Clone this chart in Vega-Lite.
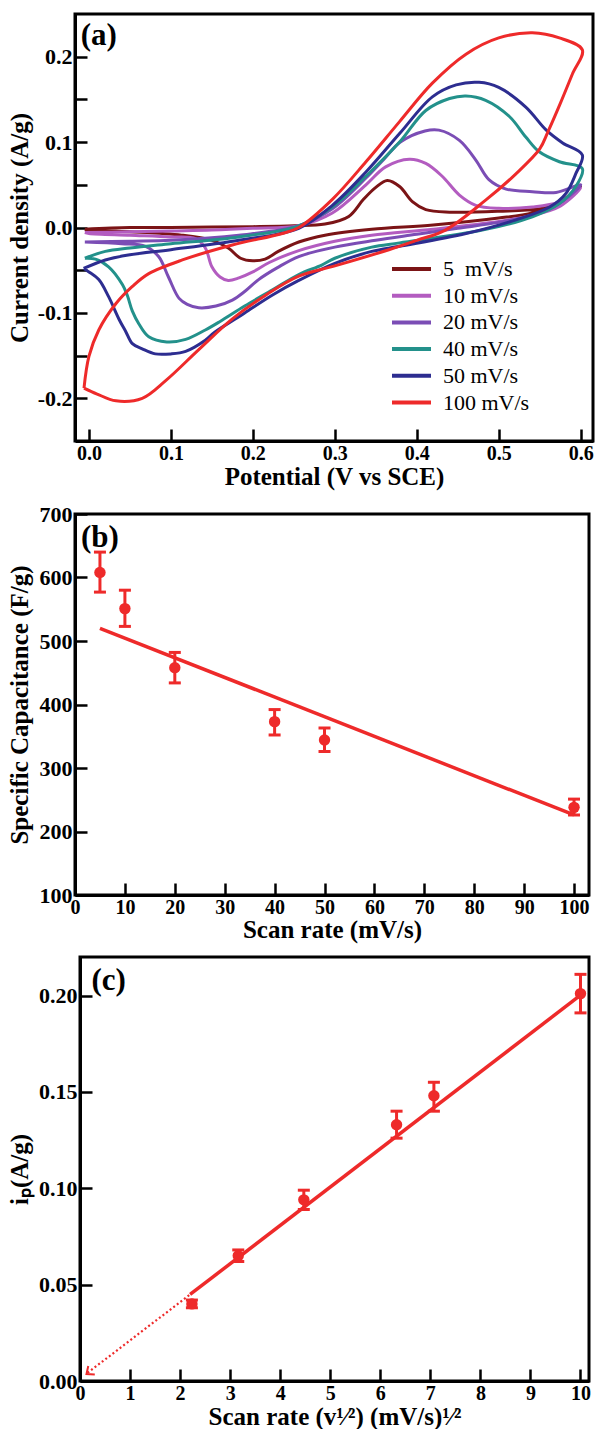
{
"$schema": "https://vega.github.io/schema/vega-lite/v6.json",
"padding": {"left": 5, "top": 12, "right": 2, "bottom": 2},
"background": "white",
"bounds": "flush",
"spacing": 73,
"config": {
  "font": "Liberation Serif",
  "view": {"stroke": "black", "strokeWidth": 3},
  "axis": {"domainColor": "black", "domainWidth": 3, "tickColor": "black", "tickWidth": 2.5, "tickSize": -12,
    "labelFont": "Liberation Serif", "labelFontWeight": "bold", "labelFontSize": 22, "labelColor": "black",
    "titleFont": "Liberation Serif", "titleFontWeight": "bold", "titleFontSize": 25, "titleColor": "black",
    "grid": false, "labelFlush": false, "labelOverlap": false, "labelPadding": 15, "labelBound": false},
  "axisX": {"labelFontSize": 20, "labelPadding": 14}
},
"vconcat": [
{
  "width": 518, "height": 427,
  "layer": [
  {
    "data": {"values": [
{"s":"5\u00a0\u00a0mV/s","k":1,"v":-0.005,"c":-0.002},{"s":"5\u00a0\u00a0mV/s","k":2,"v":0.05,"c":0.0},{"s":"5\u00a0\u00a0mV/s","k":3,"v":0.1,"c":0.0},{"s":"5\u00a0\u00a0mV/s","k":4,"v":0.15,"c":0.0005},{"s":"5\u00a0\u00a0mV/s","k":5,"v":0.2,"c":0.001},{"s":"5\u00a0\u00a0mV/s","k":6,"v":0.25,"c":0.002},{"s":"5\u00a0\u00a0mV/s","k":7,"v":0.288,"c":0.004},{"s":"5\u00a0\u00a0mV/s","k":8,"v":0.317,"c":0.013},{"s":"5\u00a0\u00a0mV/s","k":9,"v":0.335,"c":0.033},{"s":"5\u00a0\u00a0mV/s","k":10,"v":0.35,"c":0.047},{"s":"5\u00a0\u00a0mV/s","k":11,"v":0.364,"c":0.055},{"s":"5\u00a0\u00a0mV/s","k":12,"v":0.379,"c":0.048},{"s":"5\u00a0\u00a0mV/s","k":13,"v":0.395,"c":0.03},{"s":"5\u00a0\u00a0mV/s","k":14,"v":0.411,"c":0.021},{"s":"5\u00a0\u00a0mV/s","k":15,"v":0.44,"c":0.018},{"s":"5\u00a0\u00a0mV/s","k":16,"v":0.5,"c":0.019},{"s":"5\u00a0\u00a0mV/s","k":17,"v":0.55,"c":0.022},{"s":"5\u00a0\u00a0mV/s","k":18,"v":0.58,"c":0.03},{"s":"5\u00a0\u00a0mV/s","k":19,"v":0.6,"c":0.048},{"s":"5\u00a0\u00a0mV/s","k":20,"v":0.57,"c":0.027},{"s":"5\u00a0\u00a0mV/s","k":21,"v":0.541,"c":0.017},{"s":"5\u00a0\u00a0mV/s","k":22,"v":0.5,"c":0.011},{"s":"5\u00a0\u00a0mV/s","k":23,"v":0.42,"c":0.003},{"s":"5\u00a0\u00a0mV/s","k":24,"v":0.345,"c":-0.002},{"s":"5\u00a0\u00a0mV/s","k":25,"v":0.288,"c":-0.009},{"s":"5\u00a0\u00a0mV/s","k":26,"v":0.256,"c":-0.017},{"s":"5\u00a0\u00a0mV/s","k":27,"v":0.231,"c":-0.028},{"s":"5\u00a0\u00a0mV/s","k":28,"v":0.215,"c":-0.037},{"s":"5\u00a0\u00a0mV/s","k":29,"v":0.2,"c":-0.039},{"s":"5\u00a0\u00a0mV/s","k":30,"v":0.185,"c":-0.036},{"s":"5\u00a0\u00a0mV/s","k":31,"v":0.17,"c":-0.024},{"s":"5\u00a0\u00a0mV/s","k":32,"v":0.15,"c":-0.015},{"s":"5\u00a0\u00a0mV/s","k":33,"v":0.113,"c":-0.009},{"s":"5\u00a0\u00a0mV/s","k":34,"v":0.05,"c":-0.005},{"s":"5\u00a0\u00a0mV/s","k":35,"v":0.0,"c":-0.003},{"s":"5\u00a0\u00a0mV/s","k":36,"v":-0.005,"c":-0.002},
{"s":"10 mV/s","k":1,"v":-0.005,"c":-0.006},{"s":"10 mV/s","k":2,"v":0.05,"c":-0.005},{"s":"10 mV/s","k":3,"v":0.1,"c":-0.004},{"s":"10 mV/s","k":4,"v":0.15,"c":-0.003},{"s":"10 mV/s","k":5,"v":0.2,"c":-0.001},{"s":"10 mV/s","k":6,"v":0.256,"c":0.002},{"s":"10 mV/s","k":7,"v":0.297,"c":0.017},{"s":"10 mV/s","k":8,"v":0.338,"c":0.05},{"s":"10 mV/s","k":9,"v":0.362,"c":0.071},{"s":"10 mV/s","k":10,"v":0.391,"c":0.08},{"s":"10 mV/s","k":11,"v":0.411,"c":0.075},{"s":"10 mV/s","k":12,"v":0.431,"c":0.06},{"s":"10 mV/s","k":13,"v":0.452,"c":0.038},{"s":"10 mV/s","k":14,"v":0.472,"c":0.026},{"s":"10 mV/s","k":15,"v":0.5,"c":0.0225},{"s":"10 mV/s","k":16,"v":0.541,"c":0.024},{"s":"10 mV/s","k":17,"v":0.574,"c":0.03},{"s":"10 mV/s","k":18,"v":0.6,"c":0.046},{"s":"10 mV/s","k":19,"v":0.575,"c":0.025},{"s":"10 mV/s","k":20,"v":0.54,"c":0.014},{"s":"10 mV/s","k":21,"v":0.5,"c":0.007},{"s":"10 mV/s","k":22,"v":0.42,"c":-0.002},{"s":"10 mV/s","k":23,"v":0.345,"c":-0.009},{"s":"10 mV/s","k":24,"v":0.3,"c":-0.016},{"s":"10 mV/s","k":25,"v":0.256,"c":-0.027},{"s":"10 mV/s","k":26,"v":0.22,"c":-0.041},{"s":"10 mV/s","k":27,"v":0.2,"c":-0.052},{"s":"10 mV/s","k":28,"v":0.183,"c":-0.059},{"s":"10 mV/s","k":29,"v":0.17,"c":-0.062},{"s":"10 mV/s","k":30,"v":0.16,"c":-0.058},{"s":"10 mV/s","k":31,"v":0.15,"c":-0.046},{"s":"10 mV/s","k":32,"v":0.142,"c":-0.024},{"s":"10 mV/s","k":33,"v":0.13,"c":-0.013},{"s":"10 mV/s","k":34,"v":0.1,"c":-0.011},{"s":"10 mV/s","k":35,"v":0.05,"c":-0.009},{"s":"10 mV/s","k":36,"v":0.0,"c":-0.007},{"s":"10 mV/s","k":37,"v":-0.005,"c":-0.006},
{"s":"20 mV/s","k":1,"v":-0.005,"c":-0.017},{"s":"20 mV/s","k":2,"v":0.05,"c":-0.016},{"s":"20 mV/s","k":3,"v":0.1,"c":-0.015},{"s":"20 mV/s","k":4,"v":0.183,"c":-0.009},{"s":"20 mV/s","k":5,"v":0.256,"c":0.002},{"s":"20 mV/s","k":6,"v":0.297,"c":0.022},{"s":"20 mV/s","k":7,"v":0.338,"c":0.058},{"s":"20 mV/s","k":8,"v":0.36,"c":0.08},{"s":"20 mV/s","k":9,"v":0.38,"c":0.1},{"s":"20 mV/s","k":10,"v":0.41,"c":0.113},{"s":"20 mV/s","k":11,"v":0.427,"c":0.114},{"s":"20 mV/s","k":12,"v":0.452,"c":0.102},{"s":"20 mV/s","k":13,"v":0.472,"c":0.079},{"s":"20 mV/s","k":14,"v":0.488,"c":0.056},{"s":"20 mV/s","k":15,"v":0.509,"c":0.045},{"s":"20 mV/s","k":16,"v":0.541,"c":0.042},{"s":"20 mV/s","k":17,"v":0.57,"c":0.041},{"s":"20 mV/s","k":18,"v":0.6,"c":0.05},{"s":"20 mV/s","k":19,"v":0.57,"c":0.026},{"s":"20 mV/s","k":20,"v":0.54,"c":0.014},{"s":"20 mV/s","k":21,"v":0.5,"c":0.006},{"s":"20 mV/s","k":22,"v":0.45,"c":-0.001},{"s":"20 mV/s","k":23,"v":0.4,"c":-0.008},{"s":"20 mV/s","k":24,"v":0.35,"c":-0.015},{"s":"20 mV/s","k":25,"v":0.3,"c":-0.023},{"s":"20 mV/s","k":26,"v":0.256,"c":-0.034},{"s":"20 mV/s","k":27,"v":0.23,"c":-0.047},{"s":"20 mV/s","k":28,"v":0.207,"c":-0.061},{"s":"20 mV/s","k":29,"v":0.19,"c":-0.075},{"s":"20 mV/s","k":30,"v":0.175,"c":-0.085},{"s":"20 mV/s","k":31,"v":0.155,"c":-0.092},{"s":"20 mV/s","k":32,"v":0.134,"c":-0.094},{"s":"20 mV/s","k":33,"v":0.12,"c":-0.09},{"s":"20 mV/s","k":34,"v":0.11,"c":-0.083},{"s":"20 mV/s","k":35,"v":0.097,"c":-0.058},{"s":"20 mV/s","k":36,"v":0.085,"c":-0.034},{"s":"20 mV/s","k":37,"v":0.069,"c":-0.022},{"s":"20 mV/s","k":38,"v":0.04,"c":-0.019},{"s":"20 mV/s","k":39,"v":-0.005,"c":-0.017},
{"s":"40 mV/s","k":1,"v":-0.005,"c":-0.036},{"s":"40 mV/s","k":2,"v":0.02,"c":-0.028},{"s":"40 mV/s","k":3,"v":0.05,"c":-0.024},{"s":"40 mV/s","k":4,"v":0.1,"c":-0.019},{"s":"40 mV/s","k":5,"v":0.183,"c":-0.011},{"s":"40 mV/s","k":6,"v":0.256,"c":0.002},{"s":"40 mV/s","k":7,"v":0.297,"c":0.024},{"s":"40 mV/s","k":8,"v":0.338,"c":0.06},{"s":"40 mV/s","k":9,"v":0.379,"c":0.1},{"s":"40 mV/s","k":10,"v":0.411,"c":0.137},{"s":"40 mV/s","k":11,"v":0.44,"c":0.151},{"s":"40 mV/s","k":12,"v":0.46,"c":0.154},{"s":"40 mV/s","k":13,"v":0.484,"c":0.149},{"s":"40 mV/s","k":14,"v":0.513,"c":0.13},{"s":"40 mV/s","k":15,"v":0.533,"c":0.106},{"s":"40 mV/s","k":16,"v":0.549,"c":0.089},{"s":"40 mV/s","k":17,"v":0.574,"c":0.077},{"s":"40 mV/s","k":18,"v":0.602,"c":0.069},{"s":"40 mV/s","k":19,"v":0.594,"c":0.048},{"s":"40 mV/s","k":20,"v":0.574,"c":0.028},{"s":"40 mV/s","k":21,"v":0.541,"c":0.0126},{"s":"40 mV/s","k":22,"v":0.48,"c":-0.003},{"s":"40 mV/s","k":23,"v":0.379,"c":-0.018},{"s":"40 mV/s","k":24,"v":0.345,"c":-0.023},{"s":"40 mV/s","k":25,"v":0.3,"c":-0.036},{"s":"40 mV/s","k":26,"v":0.284,"c":-0.044},{"s":"40 mV/s","k":27,"v":0.256,"c":-0.055},{"s":"40 mV/s","k":28,"v":0.224,"c":-0.073},{"s":"40 mV/s","k":29,"v":0.19,"c":-0.092},{"s":"40 mV/s","k":30,"v":0.16,"c":-0.11},{"s":"40 mV/s","k":31,"v":0.142,"c":-0.12},{"s":"40 mV/s","k":32,"v":0.118,"c":-0.131},{"s":"40 mV/s","k":33,"v":0.095,"c":-0.134},{"s":"40 mV/s","k":34,"v":0.073,"c":-0.128},{"s":"40 mV/s","k":35,"v":0.061,"c":-0.113},{"s":"40 mV/s","k":36,"v":0.053,"c":-0.098},{"s":"40 mV/s","k":37,"v":0.047,"c":-0.08},{"s":"40 mV/s","k":38,"v":0.041,"c":-0.067},{"s":"40 mV/s","k":39,"v":0.024,"c":-0.046},{"s":"40 mV/s","k":40,"v":0.008,"c":-0.037},{"s":"40 mV/s","k":41,"v":-0.005,"c":-0.036},
{"s":"50 mV/s","k":1,"v":-0.0065,"c":-0.048},{"s":"50 mV/s","k":2,"v":0.02,"c":-0.038},{"s":"50 mV/s","k":3,"v":0.05,"c":-0.032},{"s":"50 mV/s","k":4,"v":0.1,"c":-0.026},{"s":"50 mV/s","k":5,"v":0.183,"c":-0.015},{"s":"50 mV/s","k":6,"v":0.256,"c":-0.001},{"s":"50 mV/s","k":7,"v":0.297,"c":0.026},{"s":"50 mV/s","k":8,"v":0.338,"c":0.065},{"s":"50 mV/s","k":9,"v":0.379,"c":0.11},{"s":"50 mV/s","k":10,"v":0.419,"c":0.153},{"s":"50 mV/s","k":11,"v":0.448,"c":0.167},{"s":"50 mV/s","k":12,"v":0.476,"c":0.17},{"s":"50 mV/s","k":13,"v":0.5,"c":0.164},{"s":"50 mV/s","k":14,"v":0.533,"c":0.141},{"s":"50 mV/s","k":15,"v":0.558,"c":0.114},{"s":"50 mV/s","k":16,"v":0.578,"c":0.099},{"s":"50 mV/s","k":17,"v":0.602,"c":0.085},{"s":"50 mV/s","k":18,"v":0.594,"c":0.063},{"s":"50 mV/s","k":19,"v":0.582,"c":0.04},{"s":"50 mV/s","k":20,"v":0.562,"c":0.024},{"s":"50 mV/s","k":21,"v":0.521,"c":0.009},{"s":"50 mV/s","k":22,"v":0.46,"c":-0.007},{"s":"50 mV/s","k":23,"v":0.379,"c":-0.022},{"s":"50 mV/s","k":24,"v":0.345,"c":-0.028},{"s":"50 mV/s","k":25,"v":0.3,"c":-0.042},{"s":"50 mV/s","k":26,"v":0.256,"c":-0.062},{"s":"50 mV/s","k":27,"v":0.224,"c":-0.079},{"s":"50 mV/s","k":28,"v":0.19,"c":-0.1},{"s":"50 mV/s","k":29,"v":0.153,"c":-0.123},{"s":"50 mV/s","k":30,"v":0.142,"c":-0.132},{"s":"50 mV/s","k":31,"v":0.118,"c":-0.145},{"s":"50 mV/s","k":32,"v":0.1,"c":-0.148},{"s":"50 mV/s","k":33,"v":0.081,"c":-0.148},{"s":"50 mV/s","k":34,"v":0.065,"c":-0.142},{"s":"50 mV/s","k":35,"v":0.053,"c":-0.136},{"s":"50 mV/s","k":36,"v":0.045,"c":-0.122},{"s":"50 mV/s","k":37,"v":0.037,"c":-0.108},{"s":"50 mV/s","k":38,"v":0.024,"c":-0.081},{"s":"50 mV/s","k":39,"v":0.012,"c":-0.061},{"s":"50 mV/s","k":40,"v":0.0,"c":-0.052},{"s":"50 mV/s","k":41,"v":-0.0065,"c":-0.048},
{"s":"100 mV/s","k":1,"v":-0.006,"c":-0.188},{"s":"100 mV/s","k":2,"v":0.0,"c":-0.151},{"s":"100 mV/s","k":3,"v":0.012,"c":-0.12},{"s":"100 mV/s","k":4,"v":0.033,"c":-0.089},{"s":"100 mV/s","k":5,"v":0.053,"c":-0.069},{"s":"100 mV/s","k":6,"v":0.073,"c":-0.054},{"s":"100 mV/s","k":7,"v":0.114,"c":-0.038},{"s":"100 mV/s","k":8,"v":0.175,"c":-0.0205},{"s":"100 mV/s","k":9,"v":0.236,"c":-0.007},{"s":"100 mV/s","k":10,"v":0.256,"c":0.0},{"s":"100 mV/s","k":11,"v":0.297,"c":0.033},{"s":"100 mV/s","k":12,"v":0.338,"c":0.077},{"s":"100 mV/s","k":13,"v":0.379,"c":0.124},{"s":"100 mV/s","k":14,"v":0.419,"c":0.169},{"s":"100 mV/s","k":15,"v":0.46,"c":0.203},{"s":"100 mV/s","k":16,"v":0.5,"c":0.222},{"s":"100 mV/s","k":17,"v":0.541,"c":0.228},{"s":"100 mV/s","k":18,"v":0.574,"c":0.222},{"s":"100 mV/s","k":19,"v":0.602,"c":0.208},{"s":"100 mV/s","k":20,"v":0.59,"c":0.18},{"s":"100 mV/s","k":21,"v":0.575,"c":0.145},{"s":"100 mV/s","k":22,"v":0.56,"c":0.112},{"s":"100 mV/s","k":23,"v":0.55,"c":0.092},{"s":"100 mV/s","k":24,"v":0.52,"c":0.062},{"s":"100 mV/s","k":25,"v":0.484,"c":0.032},{"s":"100 mV/s","k":26,"v":0.435,"c":-0.003},{"s":"100 mV/s","k":27,"v":0.4,"c":-0.015},{"s":"100 mV/s","k":28,"v":0.366,"c":-0.026},{"s":"100 mV/s","k":29,"v":0.3,"c":-0.045},{"s":"100 mV/s","k":30,"v":0.256,"c":-0.057},{"s":"100 mV/s","k":31,"v":0.216,"c":-0.079},{"s":"100 mV/s","k":32,"v":0.175,"c":-0.107},{"s":"100 mV/s","k":33,"v":0.134,"c":-0.143},{"s":"100 mV/s","k":34,"v":0.094,"c":-0.179},{"s":"100 mV/s","k":35,"v":0.065,"c":-0.2},{"s":"100 mV/s","k":36,"v":0.033,"c":-0.203},{"s":"100 mV/s","k":37,"v":0.01,"c":-0.195},{"s":"100 mV/s","k":38,"v":-0.006,"c":-0.188}
    ]},
    "mark": {"type": "line", "strokeWidth": 3, "interpolate": "catmull-rom"},
    "encoding": {
      "x": {"field": "v", "type": "quantitative", "scale": {"domain": [-0.017, 0.615], "nice": false, "zero": false},
        "axis": {"values": [0, 0.1, 0.2, 0.3, 0.4, 0.5, 0.6], "format": ".1f", "title": "Potential (V vs SCE)", "titleY": 43, "titleBaseline": "alphabetic"}},
      "y": {"field": "c", "type": "quantitative", "scale": {"domain": [-0.25, 0.25], "nice": false, "zero": false},
        "axis": {"values": [-0.2, -0.15, -0.1, -0.05, 0, 0.05, 0.1, 0.15, 0.2],
          "labelExpr": "abs(datum.value*10 - round(datum.value*10)) < 0.01 ? (datum.value < -0.001 ? '-' + format(-datum.value, '.1f') : format(abs(datum.value), '.1f')) : ''",
          "title": "Current density (A/g)", "titleX": -48, "titleY": 213.5, "titleBaseline": "alphabetic", "titleAngle": -90, "titleAlign": "center"}},
      "color": {"field": "s", "type": "nominal",
        "scale": {"domain": ["5\u00a0\u00a0mV/s", "10 mV/s", "20 mV/s", "40 mV/s", "50 mV/s", "100 mV/s"],
                  "range": ["#7b1416", "#b35cc0", "#7b4db5", "#23918b", "#2d2d90", "#ee2a2a"]},
        "legend": {"orient": "none", "legendX": 315, "legendY": 245, "title": null, "symbolType": "stroke", "symbolSize": 1521, "symbolStrokeWidth": 4,
          "labelFontSize": 22, "labelFont": "Liberation Serif", "labelFontWeight": "normal", "labelColor": "black", "clipHeight": 20, "rowPadding": 4.7, "labelOffset": 10, "padding": 0}},
      "order": {"field": "k", "type": "quantitative"}
    }
  },
  {
    "data": {"values": [{"v": -0.01, "c": 0.214, "t": "(a)"}]},
    "mark": {"type": "text", "align": "left", "baseline": "alphabetic", "fontSize": 31, "fontWeight": "bold", "font": "Liberation Serif", "color": "black"},
    "encoding": {"x": {"field": "v", "type": "quantitative"}, "y": {"field": "c", "type": "quantitative"}, "text": {"field": "t"}}
  }
  ]
},
{
  "vconcat": [
  {
    "width": 514, "height": 381,
    "encoding": {
      "x": {"field": "x", "type": "quantitative", "scale": {"domain": [0, 103], "nice": false, "zero": false},
        "axis": {"values": [0, 10, 20, 30, 40, 50, 60, 70, 80, 90, 100], "title": "Scan rate (mV/s)", "titleY": 42, "titleBaseline": "alphabetic"}},
      "y": {"field": "y", "type": "quantitative", "scale": {"domain": [100, 700], "nice": false, "zero": false},
        "axis": {"values": [100, 200, 300, 400, 500, 600, 700], "title": "Specific Capacitance (F/g)", "titleX": -48, "titleY": 190.5, "titleBaseline": "alphabetic", "titleAngle": -90, "titleAlign": "center"}}
    },
    "layer": [
      {"data": {"values": [{"x": 5, "y": 520}, {"x": 100, "y": 226}]},
       "mark": {"type": "line", "color": "#ee2a2a", "strokeWidth": 3.5}},
      {"data": {"name": "capb"},
       "mark": {"type": "rule", "color": "#ee2a2a", "strokeWidth": 3},
       "encoding": {"y": {"field": "lo", "type": "quantitative"}, "y2": {"field": "hi"}}},
      {"data": {"name": "capb"},
       "mark": {"type": "tick", "orient": "horizontal", "color": "#ee2a2a", "size": 12, "thickness": 3, "opacity": 1},
       "encoding": {"y": {"field": "lo", "type": "quantitative"}}},
      {"data": {"name": "capb"},
       "mark": {"type": "tick", "orient": "horizontal", "color": "#ee2a2a", "size": 12, "thickness": 3, "opacity": 1},
       "encoding": {"y": {"field": "hi", "type": "quantitative"}}},
      {"data": {"name": "capb"},
       "mark": {"type": "circle", "color": "#ee2a2a", "size": 130, "opacity": 1}},
      {"data": {"values": [{"x": 1.2, "y": 648, "t": "(b)"}]},
       "mark": {"type": "text", "align": "left", "baseline": "alphabetic", "fontSize": 31, "fontWeight": "bold", "font": "Liberation Serif", "color": "black"},
       "encoding": {"text": {"field": "t"}}}
    ]
  },
  {
    "hconcat": [
    {
      "width": 5, "height": 10,
      "view": {"stroke": null},
      "data": {"values": [{"x": 0}]},
      "mark": {"type": "point", "opacity": 0},
      "encoding": {}
    },
    {
    "width": 509, "height": 424,
    "encoding": {
      "x": {"field": "x", "type": "quantitative", "scale": {"domain": [0, 10.17], "nice": false, "zero": false},
        "axis": {"values": [0, 1, 2, 3, 4, 5, 6, 7, 8, 9, 10], "title": "Scan rate (v\u00b9\u2044\u00b2) (mV/s)\u00b9\u2044\u00b2", "titleY": 43, "titleBaseline": "alphabetic"}},
      "y": {"field": "y", "type": "quantitative", "scale": {"domain": [0, 0.22], "nice": false, "zero": false},
        "axis": {"values": [0, 0.05, 0.1, 0.15, 0.2], "format": ".2f", "title": "i\u209a(A/g)", "titleX": -53, "titleY": 212, "titleBaseline": "alphabetic", "titleAngle": -90, "titleAlign": "center"}}
    },
    "layer": [
      {"data": {"values": [{"x": 0.15, "y": 0.0042}, {"x": 2.2, "y": 0.0449}]},
       "mark": {"type": "line", "color": "#ee2a2a", "strokeWidth": 2.2, "strokeDash": [2, 2.5]}},
      {"data": {"values": [{"x": 2.2, "y": 0.0449}, {"x": 10, "y": 0.2002}]},
       "mark": {"type": "line", "color": "#ee2a2a", "strokeWidth": 3.5}},
      {"data": {"values": [{"x": 0.13, "y": 0.0036}]},
       "mark": {"type": "point", "shape": "M1,-0.85L0,0L1,0.85", "filled": false, "color": "#ee2a2a", "strokeWidth": 2, "size": 160, "angle": -37.5, "opacity": 1}},
      {"data": {"name": "capc"},
       "mark": {"type": "rule", "color": "#ee2a2a", "strokeWidth": 3},
       "encoding": {"y": {"field": "lo", "type": "quantitative"}, "y2": {"field": "hi"}}},
      {"data": {"name": "capc"},
       "mark": {"type": "tick", "orient": "horizontal", "color": "#ee2a2a", "size": 12, "thickness": 3, "opacity": 1},
       "encoding": {"y": {"field": "lo", "type": "quantitative"}}},
      {"data": {"name": "capc"},
       "mark": {"type": "tick", "orient": "horizontal", "color": "#ee2a2a", "size": 12, "thickness": 3, "opacity": 1},
       "encoding": {"y": {"field": "hi", "type": "quantitative"}}},
      {"data": {"name": "capc"},
       "mark": {"type": "circle", "color": "#ee2a2a", "size": 130, "opacity": 1}},
      {"data": {"values": [{"x": 0.23, "y": 0.203, "t": "(c)"}]},
       "mark": {"type": "text", "align": "left", "baseline": "alphabetic", "fontSize": 31, "fontWeight": "bold", "font": "Liberation Serif", "color": "black"},
       "encoding": {"text": {"field": "t"}}}
    ]
    }
    ],
    "spacing": 0,
    "bounds": "flush"
  }
  ],
  "spacing": 62,
  "bounds": "flush"
}
],
"datasets": {
  "capb": [
    {"x": 5, "y": 608, "lo": 577, "hi": 640},
    {"x": 10, "y": 551, "lo": 523, "hi": 580},
    {"x": 20, "y": 458, "lo": 434, "hi": 482},
    {"x": 40, "y": 373, "lo": 352, "hi": 392},
    {"x": 50, "y": 344, "lo": 326, "hi": 363},
    {"x": 100, "y": 238, "lo": 226, "hi": 251}
  ],
  "capc": [
    {"x": 2.236, "y": 0.040, "lo": 0.038, "hi": 0.042},
    {"x": 3.162, "y": 0.065, "lo": 0.062, "hi": 0.068},
    {"x": 4.472, "y": 0.094, "lo": 0.089, "hi": 0.099},
    {"x": 6.325, "y": 0.133, "lo": 0.126, "hi": 0.140},
    {"x": 7.071, "y": 0.148, "lo": 0.140, "hi": 0.155},
    {"x": 10, "y": 0.201, "lo": 0.191, "hi": 0.211}
  ]
}
}
